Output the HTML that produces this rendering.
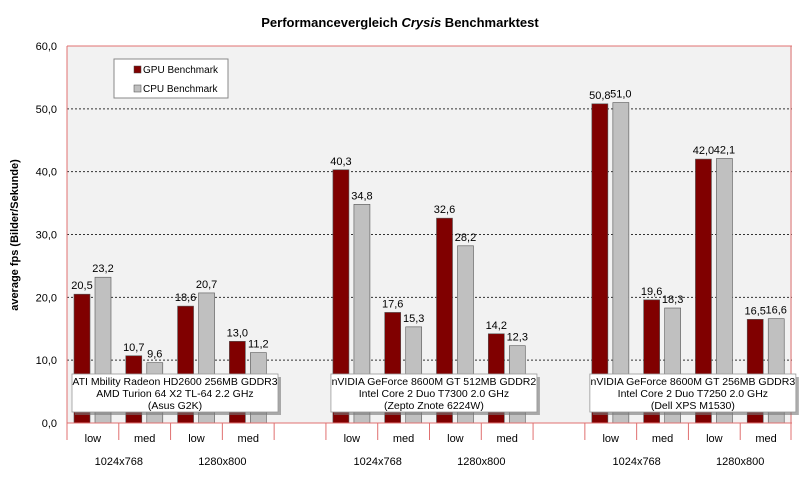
<!DOCTYPE html>
<html><head><meta charset="utf-8"><style>
body{margin:0;background:#fff;font-family:"Liberation Sans",Arial,sans-serif}
svg text{font-family:"Liberation Sans",Arial,sans-serif}
</style></head><body>
<svg id="c" width="800" height="496" xmlns="http://www.w3.org/2000/svg">
<rect x="0" y="0" width="800" height="496" fill="#fff"/>
<rect x="67" y="46" width="725" height="377" fill="#f2f2f2"/>
<text x="400" y="27" text-anchor="middle" font-size="13" font-weight="bold">Performancevergleich <tspan font-style="italic">Crysis</tspan> Benchmarktest</text>
<text transform="translate(18,235) rotate(-90)" text-anchor="middle" font-size="11" font-weight="bold">average fps (Bilder/Sekunde)</text>
<g id="grid"></g><g id="bars"></g><g id="axes"></g><g id="boxes"></g>
<g>
<rect x="114" y="59" width="114" height="39" fill="#fff" stroke="#888" stroke-width="1"/>
<rect x="134" y="66" width="7" height="7" fill="#800000" stroke="#444" stroke-width="0.5"/>
<text x="143" y="73" font-size="10">GPU Benchmark</text>
<rect x="134" y="85" width="7" height="7" fill="#c0c0c0" stroke="#444" stroke-width="0.5"/>
<text x="143" y="92" font-size="10">CPU Benchmark</text>
</g>
</svg>
<script>
const categories=["low","med","low","med","","low","med","low","med","","low","med","low","med"];
const gpuValues=[20.5,10.7,18.6,13.0,null,40.3,17.6,32.6,14.2,null,50.8,19.6,42.0,16.5];
const cpuValues=[23.2,9.6,20.7,11.2,null,34.8,15.3,28.2,12.3,null,51.0,18.3,42.1,16.6];
const yTicks=[0,10,20,30,40,50,60];
const resolutions=["1024x768","1280x800","1024x768","1280x800","1024x768","1280x800"];
const systems=[["ATI Mbility Radeon HD2600 256MB GDDR3","AMD Turion 64 X2 TL-64 2.2 GHz","(Asus G2K)"],["nVIDIA GeForce 8600M GT 512MB GDDR2","Intel Core 2 Duo T7300 2.0 GHz","(Zepto Znote 6224W)"],["nVIDIA GeForce 8600M GT 256MB GDDR3","Intel Core 2 Duo T7250 2.0 GHz","(Dell XPS M1530)"]];
const NS="http://www.w3.org/2000/svg";
const L=67,R=792,T=46,B=423,yMax=60;
const sw=(R-L)/categories.length;
const y=v=>B-(v/yMax)*(B-T);
const xs=i=>L+i*sw;
function mk(tag,attrs,parent,txt){const e=document.createElementNS(NS,tag);for(const k in attrs)e.setAttribute(k,attrs[k]);if(txt!==undefined)e.textContent=txt;parent.appendChild(e);return e;}
const grid=document.getElementById('grid'),bars=document.getElementById('bars'),axes=document.getElementById('axes'),boxes=document.getElementById('boxes');
const fmt=v=>v.toFixed(1).replace('.',',');
yTicks.forEach(t=>{
  if(t>0&&t<yMax){const g=mk('line',{x1:L,x2:R,y1:y(t),y2:y(t),stroke:'#333','stroke-dasharray':'2,2','stroke-width':1},grid);
  
  }
  const tl=mk('text',{x:57,y:y(t)+4,'text-anchor':'end','font-size':11},axes,fmt(t));
  
  
});
mk('line',{x1:L,x2:R,y1:T,y2:T,stroke:'#e07070'},axes);
mk('line',{x1:L,x2:L,y1:T,y2:B+17,stroke:'#e07070'},axes);
mk('line',{x1:R-1,x2:R-1,y1:T,y2:B,stroke:'#e07070'},axes);
mk('line',{x1:L,x2:R,y1:B,y2:B,stroke:'#e07070'},axes);
categories.forEach((c,i)=>{
  const x0=xs(i),cx=x0+sw/2;
  const sep=mk('line',{x1:xs(i+1)-(i===categories.length-1?1:0),x2:xs(i+1)-(i===categories.length-1?1:0),y1:B,y2:B+17,stroke:'#e07070'},axes);
  
  
  if(c){const cl=mk('text',{x:cx,y:B+19,'text-anchor':'middle','font-size':11},axes,c);
  
  }
  if(gpuValues[i]!=null){
    const b1=mk('rect',{x:x0+7,y:y(gpuValues[i]),width:16,height:B-y(gpuValues[i]),fill:'#800000',stroke:'#555','stroke-width':0.6},bars);
    
    
    const t1=mk('text',{x:x0+15,y:y(gpuValues[i])-5,'text-anchor':'middle','font-size':11},bars,fmt(gpuValues[i]));
    
    
  }
  if(cpuValues[i]!=null){
    const b2=mk('rect',{x:x0+28,y:y(cpuValues[i]),width:16,height:B-y(cpuValues[i]),fill:'#c0c0c0',stroke:'#555','stroke-width':0.6},bars);
    
    
    const t2=mk('text',{x:x0+36,y:y(cpuValues[i])-5,'text-anchor':'middle','font-size':11},bars,fmt(cpuValues[i]));
    
    
  }
});
resolutions.forEach((r,k)=>{
  const grp=Math.floor(k/2),idx=grp*5+(k%2)*2;
  const rl=mk('text',{x:xs(idx)+sw,y:B+42,'text-anchor':'middle','font-size':11},axes,r);
  
  
});
systems.forEach((s,g)=>{
  const x0=xs(g*5)+5,w=206;
  mk('rect',{x:x0+3,y:377,width:w,height:38,fill:'#777',opacity:0.6},boxes);
  const bx=mk('rect',{x:x0,y:374,width:w,height:38,fill:'#fff',stroke:'#999','stroke-width':0.8},boxes);
  
  
  s.forEach((line,j)=>{
    const tt=mk('text',{x:x0+w/2,y:385+j*12,'text-anchor':'middle','font-size':10.5},boxes,line);
    
    
  });
});
</script>
</body></html>
